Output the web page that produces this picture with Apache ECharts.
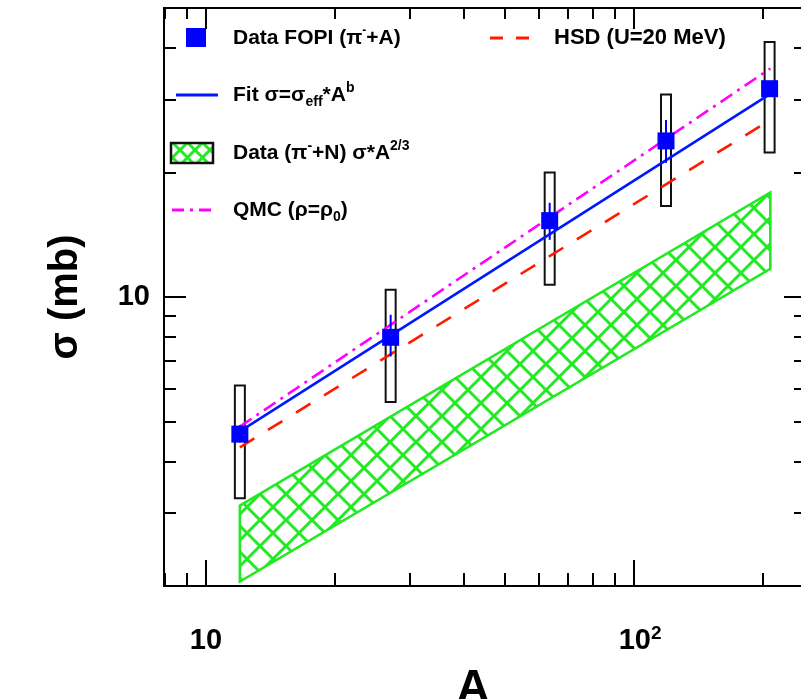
<!DOCTYPE html>
<html><head><meta charset="utf-8">
<script src="https://cdn.jsdelivr.net/npm/echarts@6/dist/echarts.min.js"></script>
<style>html,body{margin:0;padding:0;background:#fff}#c{width:801px;height:699px}</style>
</head><body><div id="c"></div>
<script>
// ---- data ----
const massNumbers = [12, 27, 63.5, 118.7, 207.2];
const sigmaFOPI   = [4.66, 7.99, 15.3, 23.85, 31.9];
const sysLow      = [3.26, 5.57, 10.7, 16.6, 22.35];
const sysHigh     = [6.11, 10.41, 20.0, 30.9, 41.4];
const statLow     = [4.45, 7.18, 13.75, 21.1, 30.6];
const statHigh    = [4.9, 9.06, 16.9, 26.8, 33.2];
const fitA = [12, 208];   const fitSigma = [4.73, 31.0];
const qmcA = [12, 208];   const qmcSigma = [4.86, 35.7];
const hsdA = [12, 208];   const hsdSigma = [4.33, 26.8];
const bandA = [12, 208];  const bandUpper = [3.13, 17.9]; const bandLower = [2.05, 11.7];
const xMajorTicks = [10, 100];
const xMinorTicks = [8, 9, 20, 30, 40, 50, 60, 70, 80, 90, 200];
const yMajorTicks = [10];
const yMinorTicks = [3, 4, 5, 6, 7, 8, 9, 20, 30, 40];
const xRange = [7.98, 252];
const yRange = [2, 50];

const FONT = '"Liberation Sans", Arial, Helvetica, sans-serif';
const GREEN = '#22ea22';

function hatch(size, color, lw) {
  const c = document.createElement('canvas');
  c.width = c.height = size;
  const g = c.getContext('2d');
  g.strokeStyle = color; g.lineWidth = lw;
  g.beginPath();
  g.moveTo(0, 0); g.lineTo(size, size);
  g.moveTo(size, 0); g.lineTo(0, size);
  g.stroke();
  return c;
}
const hatchCanvas = hatch(26, GREEN, 3);
const hatchSmall = hatch(15, GREEN, 3);

const chart = echarts.init(document.getElementById('c'), null, {renderer: 'canvas'});
const lineSt = {color: '#000', width: 2};

function mkX(pos, ticks, len, extra) {
  return Object.assign({
    type: 'log', position: pos, min: xRange[0], max: xRange[1],
    axisLine: {show: true, lineStyle: lineSt},
    axisTick: {show: true, inside: true, length: len, customValues: ticks, lineStyle: lineSt},
    axisLabel: {show: false},
    splitLine: {show: false}, minorTick: {show: false}
  }, extra || {});
}
function mkY(pos, ticks, len, extra) {
  return Object.assign({
    type: 'log', position: pos, min: yRange[0], max: yRange[1],
    axisLine: {show: true, lineStyle: lineSt},
    axisTick: {show: true, inside: true, length: len, customValues: ticks, lineStyle: lineSt},
    axisLabel: {show: false},
    splitLine: {show: false}, minorTick: {show: false}
  }, extra || {});
}

const option = {
  animation: false,
  backgroundColor: '#fff',
  grid: {left: 164, top: 8, right: -5, bottom: 113, containLabel: false, outerBoundsMode: 'none'},
  xAxis: [
    mkX('bottom', xMajorTicks, 26, {
      axisLabel: {
        show: true, customValues: xMajorTicks, margin: 38,
        formatter: v => Math.round(v) === 10 ? '{b|10}' : '{sp|}{b|10}{s|2}',
        rich: {
          b: {fontFamily: FONT, fontWeight: 'bold', fontSize: 29, color: '#000', lineHeight: 34},
          s: {fontFamily: FONT, fontWeight: 'bold', fontSize: 19, color: '#000', verticalAlign: 'top', lineHeight: 34},
          sp: {width: 12, lineHeight: 34}
        }
      },
      name: 'A', nameLocation: 'middle', nameGap: 80,
      nameTextStyle: {fontFamily: FONT, fontWeight: 'bold', fontSize: 46, color: '#000', padding: [0, 24, 0, 0]}
    }),
    mkX('bottom', xMinorTicks, 13),
    mkX('top', xMajorTicks, 21),
    mkX('top', xMinorTicks, 11)
  ],
  yAxis: [
    mkY('left', yMajorTicks, 22, {
      axisLabel: {show: true, customValues: yMajorTicks, margin: 14,
        fontFamily: FONT, fontWeight: 'bold', fontSize: 29, color: '#000'},
      name: 'σ (mb)', nameLocation: 'middle', nameGap: 78, nameRotate: 90,
      nameTextStyle: {fontFamily: FONT, fontWeight: 'bold', fontSize: 40, color: '#000'}
    }),
    mkY('left', yMinorTicks, 12),
    mkY('right', yMajorTicks, 22),
    mkY('right', yMinorTicks, 12)
  ],
  series: [
    {
      name: 'band', type: 'custom', xAxisIndex: 0, yAxisIndex: 0, z: 1,
      data: bandA.map((a, i) => [a, bandLower[i], bandUpper[i]]),
      encode: {x: 0, y: [1, 2]},
      renderItem(params, api) {
        if (params.dataIndex !== 0) return;
        const pts = [];
        for (let i = 0; i < bandA.length; i++) pts.push(api.coord([bandA[i], bandUpper[i]]));
        for (let i = bandA.length - 1; i >= 0; i--) pts.push(api.coord([bandA[i], bandLower[i]]));
        return {type: 'polygon', shape: {points: pts},
          style: {fill: {image: hatchCanvas, repeat: 'repeat'}, stroke: GREEN, lineWidth: 2.6}};
      }
    },
    {
      name: 'sys', type: 'custom', xAxisIndex: 0, yAxisIndex: 0, z: 2,
      data: massNumbers.map((a, i) => [a, sysLow[i], sysHigh[i]]),
      encode: {x: 0, y: [1, 2]},
      renderItem(params, api) {
        const lo = api.coord([api.value(0), api.value(1)]);
        const hi = api.coord([api.value(0), api.value(2)]);
        return {type: 'rect', shape: {x: lo[0] - 5, y: hi[1], width: 10, height: lo[1] - hi[1]},
          style: {fill: 'none', stroke: '#111', lineWidth: 2}};
      }
    },
    {
      name: 'HSD', type: 'line', xAxisIndex: 0, yAxisIndex: 0, z: 3, symbol: 'none',
      data: hsdA.map((a, i) => [a, hsdSigma[i]]),
      lineStyle: {color: '#ff1a00', width: 2.6, type: [17, 16]}
    },
    {
      name: 'Fit', type: 'line', xAxisIndex: 0, yAxisIndex: 0, z: 4, symbol: 'none',
      data: fitA.map((a, i) => [a, fitSigma[i]]),
      lineStyle: {color: '#0018ff', width: 2.6}
    },
    {
      name: 'QMC', type: 'line', xAxisIndex: 0, yAxisIndex: 0, z: 5, symbol: 'none',
      data: qmcA.map((a, i) => [a, qmcSigma[i]]),
      lineStyle: {color: '#ff00ff', width: 2.6, type: [14, 6, 3, 6]}
    },
    {
      name: 'FOPI', type: 'scatter', xAxisIndex: 0, yAxisIndex: 0, z: 6,
      symbol: 'rect', symbolSize: 17,
      itemStyle: {color: '#0000ff', opacity: 1},
      data: massNumbers.map((a, i) => [a, sigmaFOPI[i]])
    },
    {
      name: 'stat', type: 'custom', xAxisIndex: 0, yAxisIndex: 0, z: 7,
      data: massNumbers.map((a, i) => [a, statLow[i], statHigh[i]]),
      encode: {x: 0, y: [1, 2]},
      renderItem(params, api) {
        const lo = api.coord([api.value(0), api.value(1)]);
        const hi = api.coord([api.value(0), api.value(2)]);
        return {type: 'line', shape: {x1: lo[0], y1: lo[1], x2: hi[0], y2: hi[1]},
          style: {stroke: '#0000ff', lineWidth: 2}};
      }
    }
  ],
  graphic: [
    {type: 'rect', shape: {x: 186, y: 28, width: 20, height: 19}, style: {fill: '#0000ff'}, z: 100},
    {type: 'text', x: 233, y: 38, z: 100, style: {
      text: '{t|Data FOPI (π}{p|-}{t|+A)}', verticalAlign: 'middle',
      rich: {t: {font: 'bold 21px ' + FONT, fill: '#000', lineHeight: 26},
             p: {font: 'bold 12px ' + FONT, fill: '#000', verticalAlign: 'top', lineHeight: 26}}}},
    {type: 'line', shape: {x1: 176, y1: 95, x2: 218, y2: 95}, style: {stroke: '#0018ff', lineWidth: 3}, z: 100},
    {type: 'text', x: 233, y: 95, z: 100, style: {
      text: '{t|Fit σ=σ}{b|eff}{t|*A}{p|b}', verticalAlign: 'middle',
      rich: {t: {font: 'bold 21px ' + FONT, fill: '#000', lineHeight: 28},
             p: {font: 'bold 14px ' + FONT, fill: '#000', verticalAlign: 'top', lineHeight: 28},
             b: {font: 'bold 14px ' + FONT, fill: '#000', verticalAlign: 'bottom', lineHeight: 28}}}},
    {type: 'rect', shape: {x: 171, y: 143, width: 42, height: 20},
      style: {fill: {image: hatchSmall, repeat: 'repeat'}, stroke: '#111', lineWidth: 2.5}, z: 100},
    {type: 'text', x: 233, y: 153, z: 100, style: {
      text: '{t|Data (π}{p|-}{t|+N) σ*A}{p|2/3}', verticalAlign: 'middle',
      rich: {t: {font: 'bold 21px ' + FONT, fill: '#000', lineHeight: 28},
             p: {font: 'bold 14px ' + FONT, fill: '#000', verticalAlign: 'top', lineHeight: 28}}}},
    {type: 'line', shape: {x1: 172, y1: 210, x2: 216, y2: 210},
      style: {stroke: '#ff00ff', lineWidth: 3, lineDash: [12, 6, 3, 6]}, z: 100},
    {type: 'text', x: 233, y: 210, z: 100, style: {
      text: '{t|QMC (ρ=ρ}{b|0}{t|)}', verticalAlign: 'middle',
      rich: {t: {font: 'bold 21px ' + FONT, fill: '#000', lineHeight: 28},
             b: {font: 'bold 14px ' + FONT, fill: '#000', verticalAlign: 'bottom', lineHeight: 28}}}},
    {type: 'line', shape: {x1: 490, y1: 38, x2: 530, y2: 38},
      style: {stroke: '#ff1a00', lineWidth: 3, lineDash: [13, 13]}, z: 100},
    {type: 'text', x: 554, y: 38, z: 100, style: {
      text: 'HSD (U=20 MeV)', font: 'bold 22px ' + FONT, fill: '#000', verticalAlign: 'middle'}}
  ]
};
chart.setOption(option);
</script>
</body></html>
